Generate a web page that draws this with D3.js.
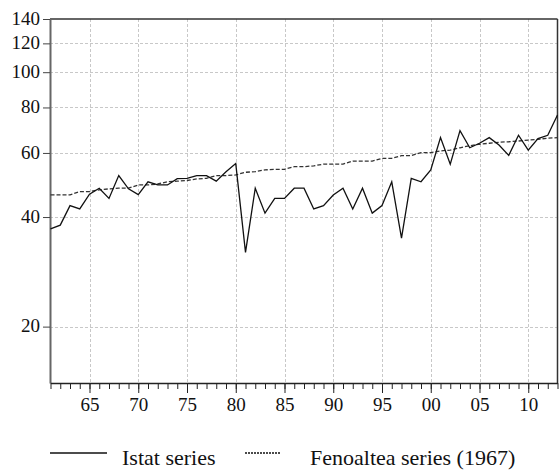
<!DOCTYPE html>
<html>
<head>
<meta charset="utf-8">
<script src="https://cdn.jsdelivr.net/npm/d3@7"></script>
<style>
body { margin: 0; background: #fff; }
svg, svg text { font-family: "Liberation Serif", "Times New Roman", Times, "DejaVu Serif", serif; }
</style>
</head>
<body>
<div id="graph"></div>
<script>
// data
var years = d3.range(1961, 2014);
var istat = [37.1, 38.0, 43.0, 42.1, 46.2, 48.0, 45.0, 52.0, 47.8, 46.1,
    50.0, 49.0, 49.0, 51.0, 51.1, 52.0, 52.0, 50.2, 53.3, 56.1,
    32.0, 48.0, 41.0, 45.0, 45.0, 48.0, 48.0, 42.1, 43.0, 46.0,
    48.0, 42.1, 48.0, 41.0, 43.0, 50.0, 35.0, 51.1, 50.0, 53.9,
    66.1, 55.9, 69.1, 62.0, 63.8, 66.1, 63.1, 59.1, 67.1, 61.1,
    65.7, 67.1, 76.3];
var fenoaltea = [46.0, 46.0, 46.0, 47.0, 47.0, 47.5, 47.8, 48.0, 48.0, 49.0,
    49.0, 49.3, 50.0, 50.2, 50.4, 50.9, 51.1, 52.0, 52.0, 52.2,
    53.1, 53.3, 53.9, 54.1, 54.1, 55.0, 55.0, 55.3, 55.9, 55.9,
    55.9, 57.0, 57.0, 57.0, 58.0, 58.0, 59.0, 59.0, 60.1, 60.1,
    60.8, 61.1, 62.0, 62.8, 63.4, 63.8, 64.2, 64.4, 64.7, 65.1,
    65.4, 65.9, 66.1];
var yTicks = [20, 40, 60, 80, 100, 120, 140];
var xTicks = [1965, 1970, 1975, 1980, 1985, 1990, 1995, 2000, 2005, 2010];
var xTickLabels = ["65", "70", "75", "80", "85", "90", "95", "00", "05", "10"];
var seriesNames = ["Istat series", "Fenoaltea series (1967)"];

var W = 559, H = 472;
var margin = {left: 50, right: 557.5, top: 19, bottom: 383};
var serif = '"Liberation Serif", "Times New Roman", Times, serif';

var svg = d3.select("#graph").append("svg")
    .attr("width", W)
    .attr("height", H);

var x = d3.scaleLinear().domain([1961, 2013]).range([margin.left + 0.5, margin.right]);
var y = d3.scaleLog().domain([14, 140]).range([margin.bottom, margin.top]);

// grid
var grid = svg.append("g");
grid.selectAll(".hg")
    .data(yTicks.slice(0, -1))
    .enter().append("line")
    .attr("x1", margin.left).attr("x2", margin.right)
    .attr("y1", function(d) { return Math.round(y(d)) + 0.5; })
    .attr("y2", function(d) { return Math.round(y(d)) + 0.5; })
    .attr("stroke", "#c8c8c8").attr("stroke-dasharray", "3,2");
grid.selectAll(".vg")
    .data(xTicks)
    .enter().append("line")
    .attr("y1", margin.top).attr("y2", margin.bottom)
    .attr("x1", function(d) { return Math.round(x(d)) + 0.5; })
    .attr("x2", function(d) { return Math.round(x(d)) + 0.5; })
    .attr("stroke", "#c8c8c8").attr("stroke-dasharray", "3,2");

// frame
svg.append("line").attr("x1", margin.left).attr("x2", margin.right)
    .attr("y1", margin.top).attr("y2", margin.top)
    .attr("stroke", "#333").attr("stroke-width", 1.5);
svg.append("line").attr("x1", margin.right).attr("x2", margin.right)
    .attr("y1", margin.top).attr("y2", margin.bottom)
    .attr("stroke", "#333").attr("stroke-width", 1.5);

// y axis
var yAxis = svg.append("g")
    .attr("transform", "translate(" + margin.left + ",0)")
    .call(d3.axisLeft(y).tickValues(yTicks).tickFormat(d3.format("d"))
        .tickSize(7).tickSizeOuter(0).tickPadding(3));
yAxis.attr("font-family", serif);
yAxis.select(".domain").attr("stroke", "#666").attr("stroke-width", 2);
yAxis.selectAll(".tick line").attr("stroke", "#444");
yAxis.selectAll("text").attr("font-size", 19).attr("fill", "#111").attr("dy", "0.27em");

// x axis, minor and major
var xMinor = svg.append("g")
    .attr("transform", "translate(0," + margin.bottom + ")")
    .call(d3.axisBottom(x).tickValues(years).tickFormat("").tickSize(6).tickSizeOuter(0));
xMinor.select(".domain").attr("stroke", "#222").attr("stroke-width", 1.5);
xMinor.selectAll(".tick line").attr("stroke", "#222");

var xAxis = svg.append("g")
    .attr("transform", "translate(0," + margin.bottom + ")")
    .call(d3.axisBottom(x).tickValues(xTicks)
        .tickFormat(function(d, i) { return xTickLabels[i]; }).tickSize(10).tickPadding(5));
xAxis.attr("font-family", serif);
xAxis.select(".domain").remove();
xAxis.selectAll(".tick line").attr("stroke", "#222");
xAxis.selectAll("text").attr("font-size", 19).attr("fill", "#111");

// lines
var line = d3.line()
    .x(function(d) { return x(d[0]); })
    .y(function(d) { return y(d[1]); });

svg.append("path")
    .datum(years.map(function(yr, i) { return [yr, fenoaltea[i]]; }))
    .attr("fill", "none").attr("stroke", "#333").attr("stroke-width", 1.3)
    .attr("stroke-dasharray", "4,2")
    .attr("d", line);

svg.append("path")
    .datum(years.map(function(yr, i) { return [yr, istat[i]]; }))
    .attr("fill", "none").attr("stroke", "#111").attr("stroke-width", 1.3)
    .attr("d", line);

// legend
var lg = svg.append("g").attr("transform", "translate(0,453)").attr("font-family", serif);
lg.append("line").attr("x1", 50).attr("x2", 107).attr("stroke", "#111").attr("stroke-width", 1.6);
lg.append("text").attr("x", 122).attr("y", 12).attr("font-size", 22).attr("fill", "#111").text(seriesNames[0]);
lg.append("line").attr("x1", 245).attr("x2", 281).attr("stroke", "#111").attr("stroke-width", 1.3)
    .attr("stroke-dasharray", "2,1");
lg.append("text").attr("x", 310).attr("y", 12).attr("font-size", 22).attr("fill", "#111").text(seriesNames[1]);
</script>
</body>
</html>
